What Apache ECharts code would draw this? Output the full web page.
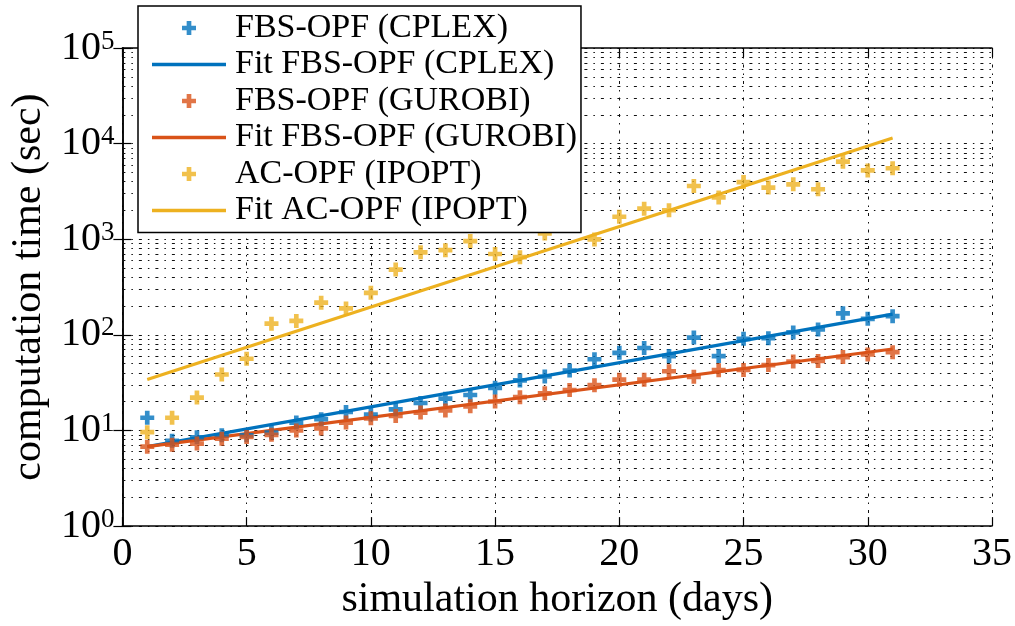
<!DOCTYPE html>
<html>
<head>
<meta charset="utf-8">
<script src="https://cdn.jsdelivr.net/npm/echarts@6/dist/echarts.min.js"></script>
<style>html,body{margin:0;padding:0;background:#fff;overflow:hidden}#c{width:1015px;height:626px}</style>
</head>
<body>
<div id="c"></div>
<script>
const days = [1,2,3,4,5,6,7,8,9,10,11,12,13,14,15,16,17,18,19,20,21,22,23,24,25,26,27,28,29,30,31];
const cplex = [13.6,7.8,8.5,8.9,8.9,9.5,12.1,13.1,15.6,14.7,16.6,19.4,21.5,23.5,27.9,33.4,36.7,42.3,55.6,64.9,72.9,60,93.7,60,90.8,92.2,106,114,168,147,157];
const gurobi = [6.77,7.1,7.3,8.2,8.55,9.0,10.0,10.5,12.1,13.4,14.2,15.4,16.2,17.9,20.1,22.3,24.5,26.5,29.8,34.0,34.0,41.6,36.4,42.7,43,48.3,52.6,53.4,58.6,62.5,65.9];
const ipopt = [9.6,13.6,22.1,38.5,56.3,131,140,217,189,275,482,729,769,957,701,649,1150,1650,995,1718,2090,2010,3605,2740,3960,3467,3750,3335,6470,5245,5530];
const fitDays = [1, 31];
const cplexFit = [6.77, 165];
const gurobiFit = [6.77, 71.2];
const ipoptFit = [34.2, 11430];
const xTicks = [0,5,10,15,20,25,30,35];
const decades = [1,10,100,1000,10000];
const minorMult = [2,3,4,5,6,7,8,9];
const names = ['FBS-OPF (CPLEX)','Fit FBS-OPF (CPLEX)','FBS-OPF (GUROBI)','Fit FBS-OPF (GUROBI)','AC-OPF (IPOPT)','Fit AC-OPF (IPOPT)'];

const C1 = '#0072BD', C2 = '#D95319', C3 = '#EDB120';
const PLUS = 'path://M4,0H8V4H12V8H8V12H4V8H0V4H4Z';
const LINE = 'path://M0,0H74V3.4H0Z';
const FONT = 'Liberation Serif';
const minorVals = [];
decades.forEach(d => minorMult.forEach(m => minorVals.push(m * d)));

const pts = arr => days.map((d, i) => [d, arr[i]]);
const fitPts = arr => fitDays.map((d, i) => [d, arr[i]]);
const gridDash = { color: '#111', type: [3, 6, 1.5, 6], width: 1 };

const chart = echarts.init(document.getElementById('c'), null, { renderer: 'canvas', width: 1015, height: 626 });
chart.setOption({
  animation: false,
  backgroundColor: '#fff',
  grid: { left: 121, top: 48, width: 871, height: 492 },
  legend: {
    orient: 'vertical', left: 138, top: 6,
    padding: [5, 4, 5, 14],
    backgroundColor: '#fff', borderColor: '#000', borderWidth: 1.5,
    itemWidth: 74, itemHeight: 14, itemGap: 2.5, symbolKeepAspect: true,
    textStyle: { fontFamily: FONT, fontSize: 34, color: '#000', padding: [0,0,0,4] },
    z: 20,
    data: [
      { name: names[0], icon: PLUS, itemStyle: { color: C1 } },
      { name: names[1], icon: LINE, itemStyle: { color: C1 } },
      { name: names[2], icon: PLUS, itemStyle: { color: C2 } },
      { name: names[3], icon: LINE, itemStyle: { color: C2 } },
      { name: names[4], icon: PLUS, itemStyle: { color: C3 } },
      { name: names[5], icon: LINE, itemStyle: { color: C3 } }
    ]
  },
  xAxis: [{
    type: 'value', min: 0, max: 35, interval: 5, position: 'bottom',
    axisLine: { lineStyle: { color: '#000', width: 1.5 } },
    axisTick: { inside: true, length: 9, lineStyle: { color: '#000', width: 1.2 } },
    axisLabel: { fontFamily: FONT, fontSize: 40, color: '#000', margin: 8 },
    splitLine: { show: true, lineStyle: gridDash },
    name: 'simulation horizon (days)', nameLocation: 'middle', nameGap: 52,
    nameTextStyle: { fontFamily: FONT, fontSize: 42, color: '#000' }
  }, {
    type: 'value', min: 0, max: 35, interval: 5, position: 'top',
    axisLine: { lineStyle: { color: '#000', width: 1.5 } },
    axisTick: { inside: true, length: 9, lineStyle: { color: '#000', width: 1.2 } },
    axisLabel: { show: false }, splitLine: { show: false }
  }],
  yAxis: [{
    type: 'log', logBase: 10, min: 1, max: 100000, position: 'left',
    axisLine: { show: true, lineStyle: { color: '#000', width: 1.5 } },
    axisTick: { show: true, inside: true, length: 9, lineStyle: { color: '#000', width: 1.2 } },
    axisLabel: {
      margin: 8, color: '#000',
      formatter: v => '{b|10}{s|' + Math.round(Math.log10(v)) + '}',
      rich: {
        b: { fontFamily: FONT, fontSize: 40, lineHeight: 40, color: '#000' },
        s: { fontFamily: FONT, fontSize: 27, color: '#000', verticalAlign: 'top', lineHeight: 27 }
      }
    },
    splitLine: { show: true, lineStyle: gridDash },
    name: 'computation time (sec)', nameLocation: 'middle', nameGap: 66,
    nameTextStyle: { fontFamily: FONT, fontSize: 42, color: '#000' }
  }, {
    type: 'log', logBase: 10, min: 1, max: 100000, position: 'right',
    axisLine: { show: true, lineStyle: { color: '#000', width: 1.5 } },
    axisTick: { show: true, inside: true, length: 9, lineStyle: { color: '#000', width: 1.2 } },
    axisLabel: { show: false }, splitLine: { show: false }
  }],
  series: [
    {
      name: names[0], type: 'scatter', data: pts(cplex), symbol: PLUS, symbolSize: 14,
      itemStyle: { color: C1 }, z: 3,
      markLine: {
        silent: true, symbol: 'none', animation: false,
        label: { show: false }, lineStyle: gridDash, z: 1,
        data: minorVals.map(v => ({ yAxis: v }))
      }
    },
    { name: names[1], type: 'line', data: fitPts(cplexFit), showSymbol: false, lineStyle: { color: C1, width: 3.2 }, itemStyle: { color: C1 }, z: 3 },
    { name: names[2], type: 'scatter', data: pts(gurobi), symbol: PLUS, symbolSize: 14, itemStyle: { color: C2 }, z: 3 },
    { name: names[3], type: 'line', data: fitPts(gurobiFit), showSymbol: false, lineStyle: { color: C2, width: 3.2 }, itemStyle: { color: C2 }, z: 3 },
    { name: names[4], type: 'scatter', data: pts(ipopt), symbol: PLUS, symbolSize: 14, itemStyle: { color: C3 }, z: 3 },
    { name: names[5], type: 'line', data: fitPts(ipoptFit), showSymbol: false, lineStyle: { color: C3, width: 3.2 }, itemStyle: { color: C3 }, z: 3 }
  ]
});
</script>
</body>
</html>
